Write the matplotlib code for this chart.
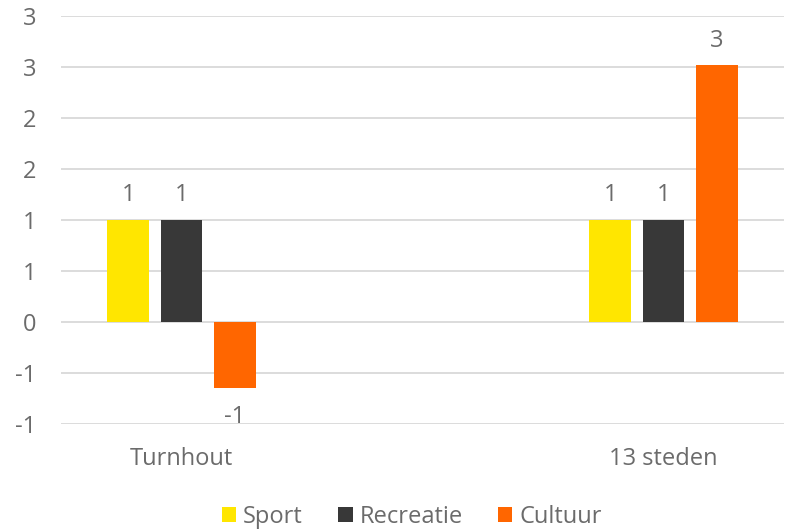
import numpy as np
import matplotlib
matplotlib.use("Agg")
import matplotlib.pyplot as plt
from matplotlib.patches import Patch

categories = ["Turnhout", "", "13 steden"]
series_names = ["Sport", "Recreatie", "Cultuur"]
sport = [1.0, np.nan, 1.0]
recreatie = [1.0, np.nan, 1.0]
cultuur = [-0.65, np.nan, 2.52]
colors = ["#FFE600", "#383838", "#FF6600"]
yticks = [-1.0, -0.5, 0.0, 0.5, 1.0, 1.5, 2.0, 2.5, 3.0]

plt.rcParams['font.family'] = ['Open Sans', 'DejaVu Sans']
text_color = "#6b6b6b"
fs = 17

fig = plt.figure(figsize=(7.88, 5.32), dpi=100)
ax = fig.add_axes([61/788, 1-423.7/532, (784-61)/788, (423.7-16.3)/532])

x = np.arange(len(categories))
width = 0.174
step = 0.221
for i, (vals, name, c) in enumerate(zip([sport, recreatie, cultuur], series_names, colors)):
    pos = x + (i-1)*step
    ax.bar(pos, vals, width=width, color=c, label=name, zorder=3)
    for p, v in zip(pos, vals):
        if np.isnan(v):
            continue
        if v >= 0:
            ax.annotate(f"{v:.0f}", (p, v), xytext=(0, 9), textcoords="offset points",
                        ha="center", va="bottom", fontsize=fs, color=text_color)
        else:
            ax.annotate(f"{round(v):.0f}", (p, v), xytext=(0, -12), textcoords="offset points",
                        ha="center", va="top", fontsize=fs, color=text_color)

ax.set_xlim(-0.5, len(categories)-0.5)
ax.set_ylim(-1.0, 3.0)
ax.set_yticks(yticks)
def fmt(v):
    r = int(np.sign(v)*np.floor(abs(v)+0.5))
    return f"{r}"
ax.set_yticklabels([fmt(v) for v in yticks])
ax.set_xticks(x)
ax.set_xticklabels(categories)
ax.tick_params(axis='both', length=0, colors=text_color, labelsize=fs)
ax.tick_params(axis='y', pad=18)
ax.tick_params(axis='x', pad=17)
ax.yaxis.grid(True, color="#D9D9D9", linewidth=1.3, zorder=0)
ax.set_axisbelow(True)
for s in ax.spines.values():
    s.set_visible(False)

handles = [Patch(facecolor=c, label=n) for c, n in zip(colors, series_names)]
fig.legend(handles=handles, loc="center", bbox_to_anchor=(412/788, 1-517/532), ncol=3,
           frameon=False, fontsize=fs, handlelength=0.6, handleheight=0.6,
           handletextpad=0.3, columnspacing=1.5, labelcolor=text_color)

fig.savefig("out.png", dpi=100)
